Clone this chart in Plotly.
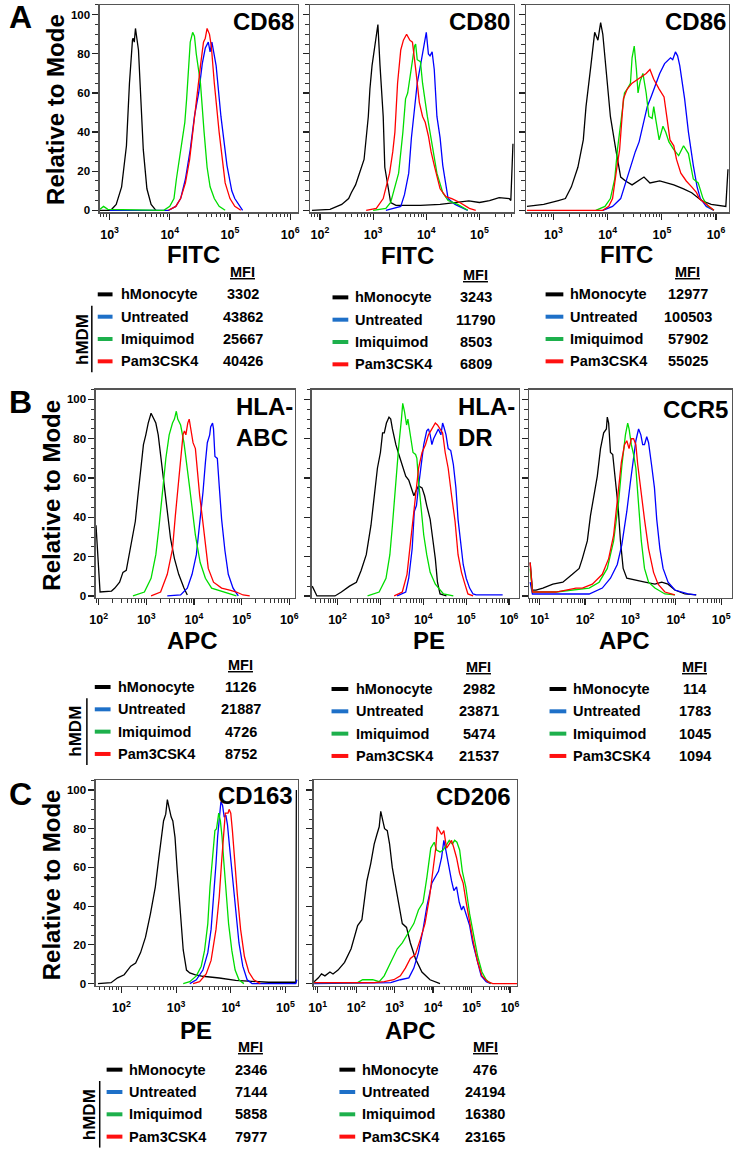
import math
import plotly.graph_objects as go

W, H = 738, 1150
FONT = "Liberation Sans, Arial, Helvetica, sans-serif"

# ---------------- data ----------------
GROUPS = ["hMonocyte", "Untreated", "Imiquimod", "Pam3CSK4"]
CURVE_COLORS = ["#000000", "#0000FF", "#00DD00", "#FF0000"]
SWATCH_COLORS = ["#000000", "#1E70C8", "#1DB04C", "#FF1010"]
Y_TICKS = [0, 20, 40, 60, 80, 100]

MARKERS = ["CD68", "CD80", "CD86", "HLA-ABC", "HLA-DR", "CCR5", "CD163", "CD206"]
CHANNELS = ["FITC", "FITC", "FITC", "APC", "PE", "APC", "PE", "APC"]

MFI_CD68 = [3302, 43862, 25667, 40426]
MFI_CD80 = [3243, 11790, 8503, 6809]
MFI_CD86 = [12977, 100503, 57902, 55025]
MFI_HLA_ABC = [1126, 21887, 4726, 8752]
MFI_HLA_DR = [2982, 23871, 5474, 21537]
MFI_CCR5 = [114, 1783, 1045, 1094]
MFI_CD163 = [2346, 7144, 5858, 7977]
MFI_CD206 = [476, 24194, 16380, 23165]

# histogram curves: (log10 fluorescence, % of mode)
CD68_HMONOCYTE = [(2.84, 0), (3.02, 0), (3.11, 3), (3.20, 12), (3.28, 33), (3.33, 65), (3.38, 87), (3.39, 88), (3.41, 86),
                  (3.43, 93), (3.48, 82), (3.52, 57), (3.56, 31), (3.62, 11), (3.69, 3), (3.77, 0)]
CD68_UNTREATED = [(3.0, 0), (3.98, 0), (4.10, 2), (4.18, 6), (4.26, 16), (4.34, 31), (4.41, 48), (4.48, 60), (4.54, 75),
                  (4.59, 83), (4.64, 86), (4.67, 81), (4.70, 86), (4.77, 74), (4.85, 48), (4.95, 23), (5.03, 10),
                  (5.08, 6), (5.21, 0)]
CD68_IMIQUIMOD = [(2.84, 0.5), (2.90, 2), (2.97, 0.5), (3.90, 0), (4.00, 2), (4.07, 6), (4.11, 16), (4.18, 31), (4.25, 45),
                  (4.28, 57), (4.31, 74), (4.34, 86), (4.38, 91), (4.41, 89), (4.44, 80), (4.51, 65), (4.57, 40),
                  (4.62, 22), (4.67, 12), (4.74, 6), (4.82, 2), (4.92, 0)]
CD68_PAM3CSK4 = [(3.98, 0), (4.10, 2), (4.18, 6), (4.26, 14), (4.33, 26), (4.41, 48), (4.46, 62), (4.51, 74), (4.56, 86),
                 (4.59, 88), (4.62, 93), (4.66, 90), (4.69, 84), (4.74, 65), (4.82, 40), (4.92, 14), (5.00, 6),
                 (5.08, 2), (5.18, 0)]

CD80_HMONOCYTE = [(1.85, 0), (2.19, 0.5), (2.41, 3), (2.54, 6), (2.59, 9), (2.67, 13), (2.72, 17), (2.78, 22), (2.83, 26),
                  (2.91, 48), (2.94, 62), (2.98, 74), (3.04, 85), (3.09, 95), (3.13, 74), (3.19, 48), (3.22, 22),
                  (3.28, 12), (3.33, 4), (3.43, 2.5), (3.89, 2.5), (4.26, 3), (4.54, 4), (4.80, 4.8), (5.00, 4),
                  (5.19, 5), (5.37, 6.5), (5.56, 6), (5.59, 5), (5.63, 34)]
CD80_UNTREATED = [(3.24, 0), (3.52, 2), (3.59, 8), (3.67, 19), (3.72, 37), (3.80, 57), (3.83, 65), (3.89, 74), (3.93, 81),
                  (3.96, 86), (4.00, 91), (4.04, 80), (4.07, 79), (4.11, 81), (4.15, 72), (4.20, 48), (4.26, 37),
                  (4.31, 23), (4.41, 6), (4.54, 3), (4.78, 0)]
CD80_IMIQUIMOD = [(3.00, 0), (3.24, 1), (3.33, 4), (3.41, 12), (3.48, 19), (3.56, 40), (3.61, 57), (3.65, 60), (3.72, 74),
                  (3.78, 84), (3.80, 85), (3.83, 77), (3.89, 76), (3.93, 65), (4.02, 48), (4.13, 31), (4.20, 19),
                  (4.31, 9), (4.41, 5), (4.59, 3), (4.78, 0)]
CD80_PAM3CSK4 = [(2.87, 0), (3.06, 1), (3.19, 6), (3.26, 14), (3.31, 19), (3.37, 30), (3.41, 40), (3.46, 65), (3.52, 82),
                 (3.57, 87), (3.63, 90), (3.69, 87), (3.74, 86), (3.81, 70), (3.87, 55), (3.93, 48), (3.98, 45),
                 (4.04, 38), (4.09, 30), (4.15, 23), (4.26, 11), (4.37, 7), (4.48, 6), (4.63, 4), (4.81, 1), (4.93, 0)]

CD86_HMONOCYTE = [(2.51, 2), (2.82, 3), (3.09, 5), (3.22, 6), (3.33, 12), (3.45, 22), (3.55, 36), (3.60, 53), (3.69, 74),
                  (3.73, 85), (3.76, 91), (3.82, 87), (3.87, 96), (3.91, 90), (3.96, 74), (4.05, 48), (4.15, 31),
                  (4.24, 17), (4.33, 15), (4.45, 13), (4.67, 17), (4.78, 14), (4.96, 15), (5.22, 13), (5.40, 11),
                  (5.55, 9), (5.73, 5), (5.91, 3), (6.18, 2), (6.22, 21)]
CD86_UNTREATED = [(3.91, 0), (4.09, 2), (4.24, 6), (4.33, 14), (4.42, 23), (4.51, 30), (4.58, 35), (4.65, 43), (4.73, 53),
                  (4.80, 58), (4.85, 62), (4.91, 66), (4.96, 70), (5.05, 75), (5.13, 77), (5.16, 78), (5.20, 77),
                  (5.25, 81), (5.29, 79), (5.33, 74), (5.42, 57), (5.49, 40), (5.58, 23), (5.65, 12), (5.71, 6),
                  (5.82, 2), (5.96, 0)]
CD86_IMIQUIMOD = [(3.78, 0), (3.95, 2), (4.05, 6), (4.13, 16), (4.18, 31), (4.25, 48), (4.31, 60), (4.36, 62), (4.42, 65),
                  (4.45, 78), (4.49, 84), (4.53, 72), (4.56, 60), (4.60, 66), (4.65, 70), (4.71, 60), (4.76, 48),
                  (4.82, 47), (4.85, 53), (4.89, 46), (4.95, 36), (5.02, 43), (5.07, 40), (5.13, 35), (5.22, 31),
                  (5.31, 28), (5.40, 33), (5.49, 29), (5.58, 16), (5.67, 14), (5.76, 6), (5.85, 2), (5.96, 0)]
CD86_PAM3CSK4 = [(2.51, 0), (3.91, 0), (4.02, 2), (4.09, 6), (4.16, 20), (4.22, 31), (4.29, 57), (4.36, 62), (4.45, 65),
                 (4.55, 67), (4.64, 69), (4.71, 70), (4.78, 72), (4.85, 67), (4.95, 62), (5.04, 58), (5.09, 48),
                 (5.15, 36), (5.22, 33), (5.27, 26), (5.35, 19), (5.45, 15), (5.55, 12), (5.64, 9), (5.69, 6),
                 (5.82, 3), (5.96, 0)]

HLA_ABC_HMONOCYTE = [(1.945, 36), (2.03, 2), (2.27, 2.5), (2.34, 4), (2.44, 7), (2.51, 12), (2.58, 13), (2.65, 22),
                     (2.72, 31), (2.77, 38), (2.82, 50), (2.86, 60), (2.89, 65), (2.94, 77), (2.99, 82), (3.04, 88),
                     (3.10, 93), (3.14, 91), (3.20, 88), (3.25, 82), (3.30, 72), (3.36, 60), (3.43, 45), (3.51, 29),
                     (3.59, 19), (3.68, 11), (3.79, 4), (3.86, 0.5)]
HLA_ABC_UNTREATED = [(3.44, 0), (3.72, 0.5), (3.86, 4), (3.96, 11), (4.05, 21), (4.13, 38), (4.19, 53), (4.24, 68),
                     (4.28, 78), (4.33, 82), (4.35, 86), (4.39, 88), (4.41, 85), (4.44, 71), (4.49, 70), (4.53, 56),
                     (4.58, 39), (4.65, 23), (4.72, 11), (4.82, 4), (4.93, 0)]
HLA_ABC_IMIQUIMOD = [(2.72, 0), (2.96, 2), (3.10, 9), (3.20, 21), (3.27, 36), (3.34, 55), (3.41, 70), (3.48, 82),
                     (3.55, 88), (3.59, 90), (3.63, 94), (3.66, 90), (3.72, 87), (3.79, 78), (3.86, 66), (3.91, 55),
                     (3.96, 45), (4.03, 31), (4.13, 17), (4.24, 9), (4.37, 4), (4.61, 2), (4.89, 0)]
HLA_ABC_PAM3CSK4 = [(3.10, 0), (3.30, 2), (3.44, 11), (3.55, 24), (3.61, 41), (3.68, 58), (3.73, 72), (3.77, 82),
                    (3.80, 84), (3.83, 82), (3.87, 88), (3.90, 90), (3.92, 87), (3.98, 78), (4.03, 75), (4.06, 66),
                    (4.12, 51), (4.18, 39), (4.24, 26), (4.30, 14), (4.41, 7), (4.58, 4), (4.75, 3), (4.89, 2),
                    (5.03, 0.5), (5.17, 0)]

HLA_DR_HMONOCYTE = [(1.41, 5), (1.52, 0), (1.94, 0), (2.09, 2), (2.28, 5), (2.44, 7), (2.55, 13), (2.67, 21), (2.78, 36),
                    (2.86, 51), (2.93, 65), (3.00, 73), (3.05, 83), (3.09, 83), (3.14, 88), (3.20, 91), (3.24, 90),
                    (3.28, 85), (3.36, 77), (3.43, 72), (3.51, 66), (3.59, 61), (3.66, 59), (3.72, 55), (3.78, 51),
                    (3.84, 54), (3.89, 56), (3.97, 55), (4.03, 51), (4.08, 46), (4.16, 39), (4.22, 29), (4.28, 19),
                    (4.33, 7), (4.39, 1), (4.54, 0)]
HLA_DR_UNTREATED = [(3.39, 0), (3.59, 2), (3.66, 9), (3.74, 24), (3.79, 43), (3.84, 46), (3.89, 56), (3.95, 67),
                    (4.01, 77), (4.08, 84), (4.12, 85), (4.16, 82), (4.20, 77), (4.24, 80), (4.29, 82), (4.35, 85),
                    (4.41, 82), (4.45, 88), (4.48, 86), (4.53, 82), (4.58, 75), (4.64, 74), (4.70, 67), (4.76, 55),
                    (4.81, 39), (4.87, 26), (4.93, 16), (5.00, 9), (5.08, 4), (5.16, 1), (5.23, 0.5), (5.85, 0.5)]
HLA_DR_IMIQUIMOD = [(2.70, 0), (2.97, 2), (3.13, 9), (3.22, 21), (3.28, 36), (3.33, 51), (3.38, 65), (3.43, 77),
                    (3.49, 90), (3.52, 98), (3.56, 94), (3.61, 87), (3.64, 90), (3.68, 85), (3.72, 80), (3.76, 73),
                    (3.82, 72), (3.85, 70), (3.89, 58), (3.95, 44), (4.01, 31), (4.08, 21), (4.16, 12), (4.28, 6),
                    (4.47, 1), (4.70, 0)]
HLA_DR_PAM3CSK4 = [(3.32, 0), (3.51, 2), (3.62, 11), (3.70, 28), (3.78, 44), (3.84, 55), (3.89, 65), (3.97, 73),
                   (4.05, 77), (4.12, 82), (4.20, 85), (4.28, 88), (4.33, 87), (4.39, 85), (4.45, 83), (4.51, 73),
                   (4.58, 65), (4.66, 51), (4.74, 38), (4.81, 21), (4.89, 12), (4.97, 6), (5.04, 1), (5.16, 0)]

CCR5_HMONOCYTE = [(0.79, 17), (0.84, 3), (0.92, 3), (1.07, 4), (1.29, 6), (1.51, 7), (1.72, 11), (1.87, 14), (1.94, 19),
                  (2.05, 28), (2.12, 41), (2.20, 51), (2.27, 61), (2.34, 75), (2.41, 83), (2.47, 85), (2.49, 91),
                  (2.52, 88), (2.56, 73), (2.61, 72), (2.67, 60), (2.73, 45), (2.78, 28), (2.84, 14), (2.92, 9),
                  (3.10, 8), (3.32, 7), (3.54, 6), (3.69, 7), (3.83, 6), (3.98, 3), (4.20, 1), (4.45, 0.5)]
CCR5_UNTREATED = [(0.79, 7), (0.84, 1), (2.09, 1), (2.38, 4), (2.56, 9), (2.71, 16), (2.81, 26), (2.92, 43), (3.00, 58),
                  (3.07, 72), (3.12, 79), (3.18, 85), (3.23, 82), (3.27, 77), (3.31, 77), (3.36, 81), (3.40, 78),
                  (3.47, 66), (3.53, 55), (3.58, 39), (3.65, 24), (3.72, 14), (3.83, 7), (3.98, 3), (4.27, 1),
                  (4.45, 0.5)]
CCR5_IMIQUIMOD = [(0.79, 14), (0.84, 2), (1.36, 2), (1.80, 3), (2.09, 4), (2.31, 7), (2.49, 14), (2.63, 28), (2.74, 48),
                  (2.81, 66), (2.89, 82), (2.94, 88), (2.97, 85), (3.02, 77), (3.07, 72), (3.12, 65), (3.18, 45),
                  (3.24, 28), (3.31, 14), (3.40, 7), (3.54, 4), (3.76, 1), (3.98, 0.5)]
CCR5_PAM3CSK4 = [(0.79, 17), (0.84, 2), (1.36, 2), (1.80, 4), (1.94, 4), (2.16, 6), (2.38, 11), (2.52, 19), (2.63, 31),
                 (2.73, 51), (2.80, 68), (2.87, 77), (2.92, 79), (2.97, 75), (3.02, 80), (3.07, 80), (3.12, 77),
                 (3.16, 67), (3.24, 51), (3.31, 39), (3.40, 24), (3.51, 12), (3.61, 6), (3.76, 2), (3.98, 0.5)]

CD163_HMONOCYTE = [(1.57, 0), (1.81, 0.5), (1.93, 3), (2.05, 4.6), (2.17, 9), (2.26, 10.6), (2.35, 16), (2.44, 24),
                   (2.53, 36), (2.62, 50), (2.68, 64), (2.74, 77), (2.77, 84), (2.81, 87.5), (2.84, 95), (2.87, 91),
                   (2.91, 86), (2.94, 84), (2.98, 75.5), (3.02, 58.5), (3.07, 38), (3.13, 17.4), (3.19, 7),
                   (3.25, 5.5), (3.34, 4.6), (3.49, 3.8), (3.79, 2.9), (4.09, 1.7), (4.39, 1.2), (4.69, 0.7),
                   (5.17, 0.7), (5.19, 0.3), (5.20, 100)]
CD163_UNTREATED = [(3.25, 0), (3.37, 2), (3.49, 7), (3.58, 16), (3.64, 28), (3.69, 45), (3.73, 62), (3.76, 76),
                   (3.79, 86), (3.82, 94), (3.85, 92), (3.88, 86), (3.91, 87), (3.94, 82), (3.98, 70), (4.03, 55),
                   (4.09, 38), (4.15, 21), (4.22, 9), (4.30, 2), (4.39, 0), (5.19, 0), (5.21, 2)]
CD163_IMIQUIMOD = [(3.13, 0), (3.25, 1), (3.37, 4), (3.46, 9), (3.52, 17), (3.58, 31), (3.62, 50), (3.66, 64),
                   (3.69, 76), (3.71, 79), (3.74, 80), (3.78, 88), (3.81, 84), (3.84, 76), (3.87, 64), (3.91, 48),
                   (3.96, 31), (4.02, 17), (4.08, 7), (4.15, 2), (4.24, 0)]
CD163_PAM3CSK4 = [(3.31, 0), (3.43, 1), (3.55, 5), (3.64, 12), (3.73, 28), (3.79, 45), (3.83, 62), (3.87, 79),
                  (3.90, 88), (3.92, 88), (3.95, 88), (3.97, 90), (4.00, 88), (4.03, 79), (4.07, 64), (4.12, 46),
                  (4.18, 28), (4.25, 14), (4.33, 6), (4.42, 2), (4.54, 0)]

CD206_HMONOCYTE = [(0.91, 1), (1.02, 3), (1.10, 5), (1.19, 4), (1.32, 6), (1.40, 5), (1.53, 7), (1.70, 11), (1.87, 18),
                   (2.04, 30), (2.15, 33), (2.21, 42), (2.28, 53), (2.38, 62), (2.47, 72), (2.54, 77), (2.60, 81),
                   (2.64, 89), (2.68, 86), (2.74, 80), (2.81, 79), (2.87, 72), (2.94, 60), (3.03, 50), (3.11, 40),
                   (3.20, 31), (3.31, 29), (3.41, 21), (3.54, 13), (3.71, 6), (3.92, 2), (4.18, 0)]
CD206_UNTREATED = [(0.91, 0), (2.90, 0.5), (3.15, 2), (3.37, 3), (3.50, 8), (3.62, 16), (3.74, 28), (3.84, 40),
                   (3.97, 52), (4.05, 55), (4.14, 58), (4.22, 65), (4.28, 74), (4.33, 69), (4.39, 62), (4.48, 53),
                   (4.54, 48), (4.61, 50), (4.68, 42), (4.74, 38), (4.79, 40), (4.86, 35), (4.95, 30), (5.03, 21),
                   (5.14, 13), (5.25, 4), (5.38, 1), (5.50, 0)]
CD206_IMIQUIMOD = [(0.91, 0.5), (2.04, 0.5), (2.17, 2), (2.43, 2), (2.60, 1), (2.73, 4), (2.90, 11), (3.07, 18),
                   (3.20, 21), (3.32, 25), (3.50, 31), (3.62, 38), (3.74, 42), (3.84, 55), (3.94, 70), (4.03, 73),
                   (4.09, 69), (4.18, 68), (4.26, 69), (4.33, 71), (4.42, 74), (4.50, 72), (4.56, 74), (4.62, 73),
                   (4.69, 69), (4.76, 58), (4.85, 50), (4.95, 36), (5.05, 25), (5.16, 14), (5.27, 6), (5.38, 2),
                   (5.50, 0)]
CD206_PAM3CSK4 = [(0.91, 0.5), (2.47, 0.5), (2.73, 1), (2.98, 2), (3.15, 4), (3.28, 8), (3.41, 13), (3.54, 15),
                  (3.67, 23), (3.79, 31), (3.91, 45), (3.99, 58), (4.07, 70), (4.11, 81), (4.16, 79), (4.22, 77),
                  (4.28, 79), (4.35, 70), (4.42, 72), (4.48, 74), (4.54, 70), (4.61, 65), (4.69, 57), (4.78, 52),
                  (4.86, 42), (4.95, 31), (5.05, 21), (5.16, 11), (5.27, 4), (5.42, 1), (5.55, 0), (6.18, 0)]

MFI = [MFI_CD68, MFI_CD80, MFI_CD86, MFI_HLA_ABC, MFI_HLA_DR, MFI_CCR5, MFI_CD163, MFI_CD206]
CURVES = [
    [CD68_HMONOCYTE, CD68_UNTREATED, CD68_IMIQUIMOD, CD68_PAM3CSK4],
    [CD80_HMONOCYTE, CD80_UNTREATED, CD80_IMIQUIMOD, CD80_PAM3CSK4],
    [CD86_HMONOCYTE, CD86_UNTREATED, CD86_IMIQUIMOD, CD86_PAM3CSK4],
    [HLA_ABC_HMONOCYTE, HLA_ABC_UNTREATED, HLA_ABC_IMIQUIMOD, HLA_ABC_PAM3CSK4],
    [HLA_DR_HMONOCYTE, HLA_DR_UNTREATED, HLA_DR_IMIQUIMOD, HLA_DR_PAM3CSK4],
    [CCR5_HMONOCYTE, CCR5_UNTREATED, CCR5_IMIQUIMOD, CCR5_PAM3CSK4],
    [CD163_HMONOCYTE, CD163_UNTREATED, CD163_IMIQUIMOD, CD163_PAM3CSK4],
    [CD206_HMONOCYTE, CD206_UNTREATED, CD206_IMIQUIMOD, CD206_PAM3CSK4],
]
X_DECADES = [[3, 4, 5, 6], [2, 3, 4, 5], [3, 4, 5, 6], [2, 3, 4, 5, 6], [2, 3, 4, 5, 6],
             [1, 2, 3, 4, 5], [2, 3, 4, 5], [1, 2, 3, 4, 5, 6]]

# ---------------- layout (pixels) ----------------
BOXES = [(95, 5, 296, 213), (308, 5, 515, 213), (527, 5, 733, 213),
         (91, 391, 293, 600), (310, 391, 520, 600), (530, 391, 736, 600),
         (91, 783, 296, 989), (312, 783, 518, 989)]
XRANGES = [(2.836, 6.13), (1.81, 5.65), (2.49, 6.24),
           (1.94, 6.12), (1.40, 6.23), (0.76, 5.24),
           (1.53, 5.23), (0.90, 6.18)]
TITLE_POS = [("CD68", 294, 22, "right"), ("CD80", 513, 22, "right"), ("CD86", 732, 22, "right"),
             ("HLA-<br>ABC", 231, 423, "left"), ("HLA-<br>DR", 456, 423, "left"), ("CCR5", 734, 411, "right"),
             ("CD163", 293, 798, "right"), ("CD206", 514, 799, "right")]
XTITLE_POS = [(190, 255), (407, 256), (629, 255), (189, 643), (429, 643), (627, 643), (193, 1034), (410, 1034)]
LEGEND_POS = [(93, 108, 115, 240, 273), (331, 347, 352, 476, 276), (547, 565, 570, 691, 273),
              (90, 106, 112, 238, 667), (330, 347, 353, 479, 669), (551, 568, 573, 698, 669),
              (102, 118, 123, 248, 1051), (338, 354, 359, 486, 1051)]
ROW_DY = 22.4
HMDM_POS = {0: (77, 87), 3: (71, 82), 6: (84, 95)}
PANEL_LETTERS = [("A", 15, 17), ("B", 15, 403), ("C", 15, 797)]
YTITLE_POS = [(50, 110), (46, 497), (47, 888)]


def PX(x):
    return x / W


def PY(y):
    return 1 - y / H


fig = go.Figure()
annotations = []
shapes = []


def add_text(s, x, y, size, xanchor="center", yanchor="middle", angle=0, align="center"):
    annotations.append(dict(text=s, x=PX(x), y=PY(y), xref="paper", yref="paper", showarrow=False,
                            xanchor=xanchor, yanchor=yanchor, textangle=angle, align=align,
                            font=dict(family=FONT, size=size, color="black", weight="bold")))


axis_layout = {}
for i, marker in enumerate(MARKERS):
    l, t, r, b = BOXES[i]
    lo, hi = XRANGES[i]
    suffix = "" if i == 0 else str(i + 1)
    minor_vals = []
    for k in range(math.floor(lo), math.ceil(hi) + 1):
        for m in range(2, 10):
            v = m * 10 ** k
            if lo <= math.log10(v) <= hi:
                minor_vals.append(v)
    axis_layout["xaxis" + suffix] = dict(
        type="log", range=[lo, hi], domain=[PX(l), PX(r)], anchor="y" + suffix,
        tickmode="array", tickvals=[10 ** d for d in X_DECADES[i]],
        ticktext=[f"10<sup>{d}</sup>" for d in X_DECADES[i]],
        ticks="outside", ticklen=6, tickwidth=1.2, tickcolor="#222",
        minor=dict(tickmode="array", tickvals=minor_vals, ticks="outside", ticklen=3.5,
                   tickwidth=1, tickcolor="#333", showgrid=False),
        showline=True, linecolor="#555", linewidth=1.3, mirror=True,
        showgrid=False, zeroline=False, ticklabelstandoff=4,
        tickfont=dict(family=FONT, size=12.5, color="black", weight="bold"), fixedrange=True)
    axis_layout["yaxis" + suffix] = dict(
        range=[-1, 105], domain=[PY(b), PY(t)], anchor="x" + suffix,
        tickmode="array", tickvals=Y_TICKS, ticktext=[str(v) for v in Y_TICKS],
        showticklabels=(i in (0, 3, 6)),
        ticks="outside", ticklen=6, tickwidth=1.2, tickcolor="#222",
        minor=dict(dtick=5, tick0=0, ticks="outside", ticklen=3.5, tickwidth=1, tickcolor="#333", showgrid=False),
        showline=True, linecolor="#555", linewidth=1.3, mirror=True,
        showgrid=False, zeroline=False,
        tickfont=dict(family=FONT, size=11.5, color="black", weight="bold"), fixedrange=True)

    for curve, color in zip(CURVES[i], CURVE_COLORS):
        fig.add_trace(go.Scatter(
            x=[10 ** p[0] for p in curve], y=[p[1] for p in curve], mode="lines",
            line=dict(color=color, width=1.3), xaxis="x" + suffix, yaxis="y" + suffix,
            showlegend=False, hoverinfo="skip"))

    ttxt, tx, ty, tanchor = TITLE_POS[i]
    add_text(ttxt, tx, ty, 24, xanchor=tanchor, align="left")
    cx, cy = XTITLE_POS[i]
    add_text(CHANNELS[i], cx, cy, 24)

    sx0, sx1, lx, vx, my = LEGEND_POS[i]
    add_text("<u>MFI</u>", vx, my, 14.5)
    for j, grp in enumerate(GROUPS):
        ry = my + ROW_DY * (j + 1)
        shapes.append(dict(type="line", xref="paper", yref="paper", x0=PX(sx0), x1=PX(sx1),
                           y0=PY(ry), y1=PY(ry), line=dict(color=SWATCH_COLORS[j], width=4)))
        add_text(grp, lx, ry, 14.5, xanchor="left")
        add_text(str(MFI[i][j]), vx, ry, 14.5)
    if i in HMDM_POS:
        hx, lxx = HMDM_POS[i]
        add_text("hMDM", hx, my + ROW_DY * 3, 17, angle=-90)
        shapes.append(dict(type="line", xref="paper", yref="paper", x0=PX(lxx), x1=PX(lxx),
                           y0=PY(my + ROW_DY * 2 - 11), y1=PY(my + ROW_DY * 4 + 11),
                           line=dict(color="black", width=1.5)))

for letter, x, y in PANEL_LETTERS:
    add_text(letter, x, y, 32)
for x, y in YTITLE_POS:
    add_text("Relative to Mode", x, y, 24, angle=-90)

fig.update_layout(
    width=W, height=H, margin=dict(l=0, r=0, t=0, b=0),
    paper_bgcolor="white", plot_bgcolor="white",
    font=dict(family=FONT, color="black"),
    annotations=annotations, shapes=shapes, showlegend=False,
    **axis_layout)

fig.write_html("out.html",
               config={"displayModeBar": False, "staticPlot": True},
               post_script="document.body.style.margin='0px';document.body.style.padding='0px';"
                           "document.body.style.overflow='hidden';")
